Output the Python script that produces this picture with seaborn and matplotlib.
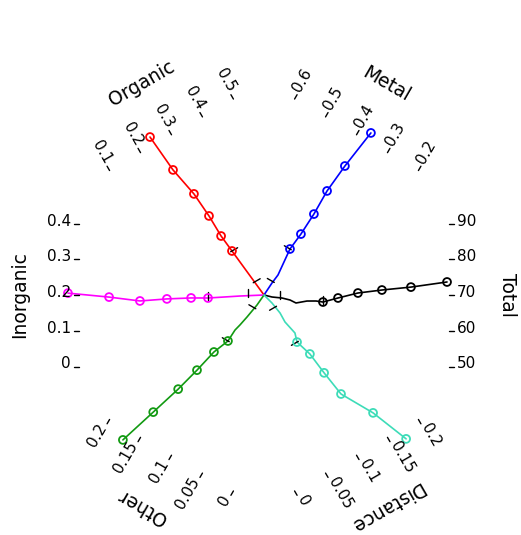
import numpy as np
import pandas as pd
import matplotlib
matplotlib.use("Agg")
import matplotlib.pyplot as plt
import seaborn as sns

# spokes, counter-clockwise from the right
names = ["Total", "Metal", "Organic", "Inorganic", "Other", "Distance"]
angles = [0, 60, 120, 180, 240, 300]
colors = ["black", "#0000ff", "#ff0000", "#ff00ff", "#129a12", "#3ddcb8"]
lows = [50, 0.2, 0.1, 0.0, 0.0, 0.0]
highs = [90, 0.6, 0.5, 0.4, 0.2, 0.2]
tick_vals = [
    [50, 60, 70, 80, 90],
    [0.2, 0.3, 0.4, 0.5, 0.6],
    [0.1, 0.2, 0.3, 0.4, 0.5],
    [0, 0.1, 0.2, 0.3, 0.4],
    [0, 0.05, 0.1, 0.15, 0.2],
    [0, 0.05, 0.1, 0.15, 0.2],
]
tick_side = [1, 1, 1, 1, 1, -1]

# path along each spoke: radius (1 = ruler) and value read on the ruler
total_r = [0, 0.043, 0.097, 0.140, 0.172, 0.231, 0.280, 0.317, 0.398, 0.505, 0.634, 0.790, 0.984]
total_v = [57.0, 57.0, 61.3, 60.0, 57.0, 62.7, 64.0, 63.8, 67.9, 71.1, 72.2, 72.8, 73.7]

metal_r = [0, 0.077, 0.131, 0.284, 0.383, 0.511, 0.654, 0.818, 1.042]
metal_v = [0.367, 0.367, 0.355, 0.405, 0.389, 0.385, 0.389, 0.381, 0.369]

organic_r = [0, 0.291, 0.390, 0.516, 0.659, 0.827, 1.042]
organic_v = [0.245, 0.245, 0.245, 0.256, 0.257, 0.245, 0.247]

inorganic_r = [0, 0.129, 0.301, 0.392, 0.522, 0.667, 0.833, 1.054]
inorganic_v = [0.178, 0.178, 0.172, 0.179, 0.179, 0.175, 0.193, 0.205]

other_r = [0, 0.066, 0.148, 0.204, 0.241, 0.311, 0.400, 0.530, 0.669, 0.843, 1.054]
other_v = [0.123, 0.123, 0.135, 0.140, 0.144, 0.137, 0.152, 0.154, 0.157, 0.162, 0.166]

distance_r = [0, 0.059, 0.127, 0.182, 0.260, 0.308, 0.398, 0.524, 0.668, 0.842, 1.052]
distance_v = [0.169, 0.169, 0.154, 0.136, 0.142, 0.123, 0.136, 0.135, 0.136, 0.159, 0.168]

paths = [(total_r, total_v), (metal_r, metal_v), (organic_r, organic_v),
         (inorganic_r, inorganic_v), (other_r, other_v), (distance_r, distance_v)]
n_circles = 6

sns.set_theme(style="white")
plt.rcParams["font.family"] = ["DejaVu Sans"]
plt.rcParams["text.color"] = "black"

CX, CY = 264, 240      # hub, in figure pixels
R = 186                # distance hub -> ruler
L = 71.5               # half length of a ruler

fig = plt.figure(figsize=(5.21, 5.35), dpi=100)
ax = fig.add_axes([0, 0, 1, 1])
ax.set_xlim(0, 521)
ax.set_ylim(0, 535)
ax.axis("off")

C = np.array([CX, CY], dtype=float)

for i, name in enumerate(names):
    th = np.deg2rad(angles[i])
    u = np.array([np.cos(th), np.sin(th)])
    right = np.cos(th) > 0
    v = np.array([-np.sin(th), np.cos(th)]) if right else np.array([np.sin(th), -np.cos(th)])
    mid = (lows[i] + highs[i]) / 2
    half = (highs[i] - lows[i]) / 2

    # data path
    r = np.array(paths[i][0])
    val = np.array(paths[i][1])
    lat = r * L * (val - mid) / half
    pts = C + np.outer(r * R, u) + np.outer(lat, v)
    df = pd.DataFrame({"x": pts[:, 0], "y": pts[:, 1]})
    sns.lineplot(data=df, x="x", y="y", sort=False, estimator=None,
                 color=colors[i], lw=1.2, ax=ax)
    ax.scatter(pts[-n_circles:, 0], pts[-n_circles:, 1], s=32, facecolors="none",
               edgecolors=colors[i], linewidths=1.3, zorder=3)

    # small cross ticks on the path
    for rt in [16 / R, r[-n_circles]]:
        lt = np.interp(rt, r, lat)
        p = C + rt * R * u + lt * v
        a = p - 1.5 * tick_side[i] * v
        b = p + 6.5 * tick_side[i] * v
        ax.plot([a[0], b[0]], [a[1], b[1]], color="black", lw=1.0)

    # ruler ticks and labels
    rot = angles[i] if right else angles[i] - 180
    if rot > 180:
        rot -= 360
    up = np.array([np.cos(np.deg2rad(rot + 90)), np.sin(np.deg2rad(rot + 90))])
    for tv in tick_vals[i]:
        off = (tv - mid) / half * L
        a = C + 185 * u + off * v
        b = C + 190 * u + off * v
        ax.plot([a[0], b[0]], [a[1], b[1]], color="black", lw=1.0)
        q = C + 193 * u + off * v + 2.5 * up
        ax.text(q[0], q[1], f"{tv:g}", rotation=rot, rotation_mode="anchor",
                ha="left" if right else "right", va="center", fontsize=11)

    # spoke title
    q = C + 244 * u
    ax.text(q[0], q[1], name, rotation=angles[i] - 90, rotation_mode="anchor",
            ha="center", va="center", fontsize=13.5)

plt.savefig("out.png", dpi=100)
plt.close()
